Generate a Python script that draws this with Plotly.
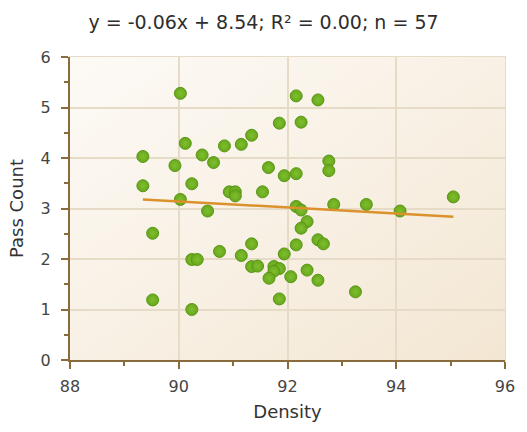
import base64
import numpy as np
import plotly.graph_objects as go

# Density vs. pass count observations
density = [
    90.03, 91.85, 89.34, 90.12, 90.43, 90.64, 90.84, 91.15, 91.34, 89.93,
    91.65, 91.94, 89.34, 90.24, 90.93, 91.04, 91.04, 91.54, 90.03, 90.53,
    92.16, 92.56, 92.25, 92.76, 92.76, 92.16, 95.05, 92.16, 92.25, 92.85,
    93.45, 94.07, 92.36, 92.25, 92.56, 92.66, 92.16, 91.94, 92.06, 92.36,
    92.56, 93.25, 91.85, 91.34, 91.34, 91.45, 91.75, 91.85, 91.75, 91.66,
    89.52, 90.24, 90.34, 90.75, 91.15, 89.52, 90.24,
]
pass_count = [
    5.28, 4.69, 4.03, 4.29, 4.06, 3.91, 4.24, 4.27, 4.45, 3.85,
    3.81, 3.65, 3.45, 3.49, 3.33, 3.33, 3.25, 3.33, 3.18, 2.95,
    5.23, 5.15, 4.71, 3.94, 3.75, 3.69, 3.23, 3.04, 2.97, 3.08,
    3.08, 2.95, 2.74, 2.61, 2.38, 2.30, 2.28, 2.10, 1.65, 1.78,
    1.58, 1.35, 1.21, 2.30, 1.85, 1.86, 1.85, 1.81, 1.76, 1.62,
    2.51, 1.99, 1.99, 2.15, 2.07, 1.19, 1.00,
]

# Linear fit summary shown in the heading
fit_slope = -0.06
fit_intercept = 8.54
fit_r2 = 0.00

x_ticks = [88, 90, 92, 94, 96]
y_ticks = [0, 1, 2, 3, 4, 5, 6]

x_arr = np.array(density)
fit_x = np.array([x_arr.min(), x_arr.max()])
fit_y = fit_slope * fit_x + fit_intercept

heading = (f"y = {fit_slope:.2f}x + {fit_intercept:.2f}; "
           f"R\u00b2 = {fit_r2:.2f}; n = {len(density)}")

# Soft diagonal cream gradient for the plotting area
svg = (
    '<svg xmlns="http://www.w3.org/2000/svg" width="100" height="100" '
    'preserveAspectRatio="none">'
    '<defs><linearGradient id="g" x1="0" y1="0" x2="1" y2="1">'
    '<stop offset="0" stop-color="#FDFAF6"/>'
    '<stop offset="1" stop-color="#F3E7D3"/>'
    '</linearGradient></defs>'
    '<rect width="100" height="100" fill="url(#g)"/></svg>'
)
bg_uri = "data:image/svg+xml;base64," + base64.b64encode(svg.encode()).decode()

axis_brown = "#8A6C3C"
grid_col = "#E6DBC7"
font_fam = "DejaVu Sans, Verdana, sans-serif"

fig = go.Figure()

fig.add_trace(go.Scatter(
    x=density, y=pass_count, mode="markers",
    marker=dict(size=12, color="#67A81B",
                gradient=dict(type="radial", color="#7FBE2E"),
                line=dict(color="#5A9617", width=1)),
    hoverinfo="x+y", showlegend=False,
))

fig.add_trace(go.Scatter(
    x=fit_x, y=fit_y, mode="lines",
    line=dict(color="#DB922C", width=2.5),
    hoverinfo="skip", showlegend=False,
))

fig.add_layout_image(dict(
    source=bg_uri, xref="x domain", yref="y domain",
    x=0, y=1, sizex=1, sizey=1, xanchor="left", yanchor="top",
    sizing="stretch", layer="below",
))

# light frame on the top and right edges
fig.add_shape(type="rect", xref="x domain", yref="y domain",
              x0=0, y0=0, x1=1, y1=1, layer="below",
              line=dict(color=grid_col, width=2))

fig.update_layout(
    width=527, height=432,
    margin=dict(l=70, r=18, t=57, b=72),
    paper_bgcolor="white",
    plot_bgcolor="rgba(0,0,0,0)",
    font=dict(family=font_fam, color="#3A3A3A"),
    title=dict(text=heading, x=0.5, xanchor="center",
               y=1 - 22 / 432, yanchor="middle", yref="container",
               font=dict(size=19, color="#2E2E2E", family=font_fam)),
)

fig.update_xaxes(
    range=[88, 96], tickvals=x_ticks, ticktext=[str(v) for v in x_ticks],
    showgrid=True, gridcolor=grid_col, gridwidth=1.5, zeroline=False,
    showline=True, linecolor=axis_brown, linewidth=2,
    ticks="outside", ticklen=7, tickwidth=1.5, tickcolor=axis_brown,
    minor=dict(dtick=1, ticks="outside", ticklen=4, tickwidth=1.5,
               tickcolor=axis_brown, showgrid=False),
    tickfont=dict(size=16, color="#444444"), ticklabelstandoff=4,
    title=dict(text="Density", font=dict(size=18, color="#333333"),
               standoff=10),
)

fig.update_yaxes(
    range=[0, 6], tickvals=y_ticks, ticktext=[str(v) for v in y_ticks],
    showgrid=True, gridcolor=grid_col, gridwidth=1.5, zeroline=False,
    showline=True, linecolor=axis_brown, linewidth=2,
    ticks="outside", ticklen=7, tickwidth=1.5, tickcolor=axis_brown,
    minor=dict(dtick=0.5, ticks="outside", ticklen=4, tickwidth=1.5,
               tickcolor=axis_brown, showgrid=False),
    tickfont=dict(size=16, color="#444444"), ticklabelstandoff=7,
    title=dict(text="Pass Count", font=dict(size=18, color="#333333"),
               standoff=12),
)

fig.write_html("out.html")
